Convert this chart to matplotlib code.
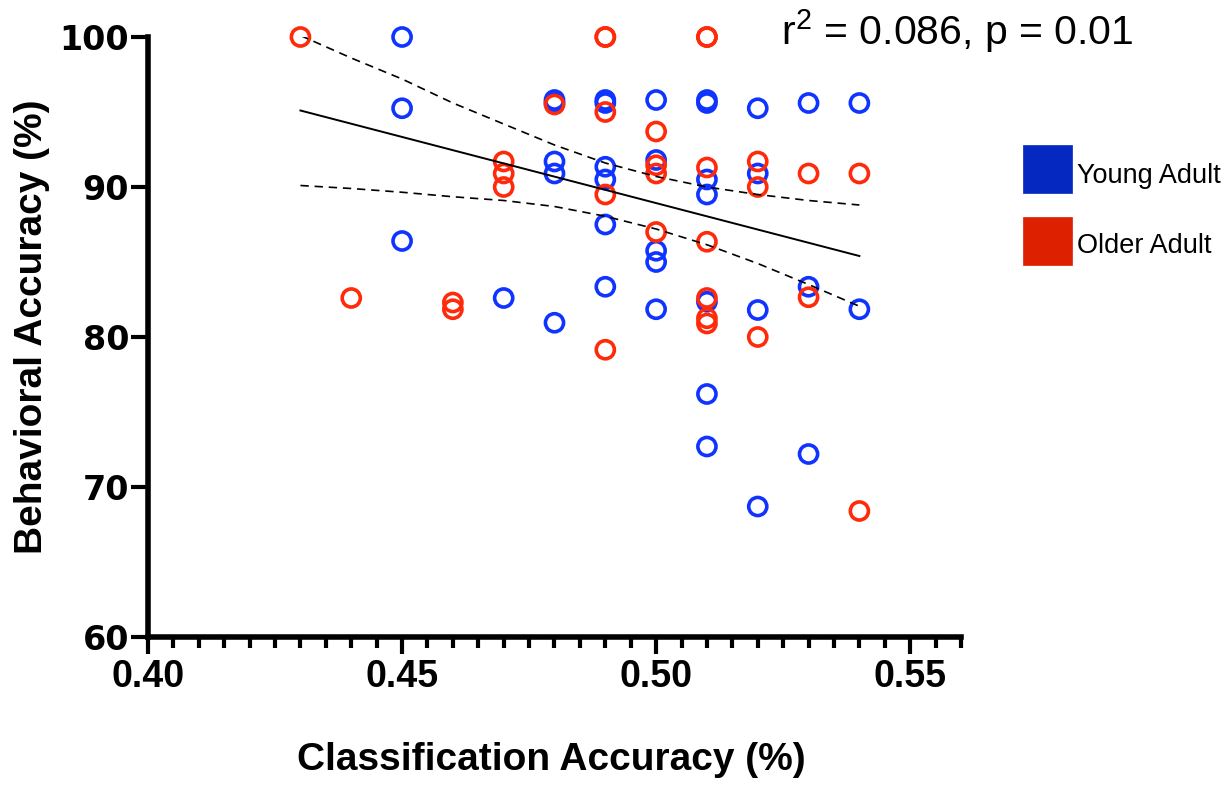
import numpy as np
import matplotlib
matplotlib.use("Agg")
import matplotlib.pyplot as plt
from matplotlib.ticker import MultipleLocator, FormatStrFormatter
from matplotlib.patches import Rectangle

plt.rcParams["mathtext.fontset"] = "custom"
plt.rcParams["mathtext.rm"] = "Liberation Sans"
plt.rcParams["mathtext.default"] = "regular"

# 値は図から読み取り
young_x = [0.45, 0.45, 0.45,
           0.47,
           0.48, 0.48, 0.48, 0.48, 0.48,
           0.49, 0.49, 0.49, 0.49, 0.49, 0.49,
           0.50, 0.50, 0.50, 0.50, 0.50,
           0.51, 0.51, 0.51, 0.51, 0.51, 0.51, 0.51,
           0.52, 0.52, 0.52, 0.52,
           0.53, 0.53, 0.53,
           0.54, 0.54]
young_y = [100.0, 95.25, 86.4,
           82.6,
           95.8, 95.6, 91.7, 90.9, 80.95,
           95.8, 95.6, 91.35, 90.5, 87.5, 83.35,
           95.8, 91.8, 85.75, 85.0, 81.85,
           95.8, 95.6, 90.5, 89.5, 82.35, 76.2, 72.7,
           95.25, 90.9, 81.8, 68.7,
           95.6, 83.35, 72.2,
           95.6, 81.85]

older_x = [0.43,
           0.44,
           0.46, 0.46,
           0.47, 0.47, 0.47,
           0.48,
           0.49, 0.49, 0.49, 0.49, 0.49,
           0.50, 0.50, 0.50, 0.50,
           0.51, 0.51, 0.51, 0.51, 0.51, 0.51, 0.51,
           0.52, 0.52, 0.52,
           0.53, 0.53,
           0.54, 0.54]
older_y = [100.0,
           82.6,
           82.3, 81.85,
           91.7, 90.9, 90.0,
           95.5,
           100.0, 100.0, 95.0, 89.5, 79.15,
           93.7, 91.45, 90.9, 87.0,
           100.0, 100.0, 91.3, 86.35, 82.6, 81.25, 80.9,
           91.7, 90.0, 80.0,
           90.9, 82.65,
           90.9, 68.4]

# 回帰直線と95%信頼帯
fit_x = [0.43, 0.54]
fit_y = [95.1, 85.4]
band_x = [0.43, 0.44, 0.45, 0.46, 0.47, 0.48, 0.49, 0.50, 0.51, 0.52, 0.53, 0.54]
band_upper = [100.1, 98.6, 97.2, 95.6, 94.2, 92.8, 91.6, 90.7, 90.0, 89.5, 89.1, 88.8]
band_lower = [90.1, 89.9, 89.65, 89.35, 89.1, 88.7, 88.05, 87.2, 86.15, 84.9, 83.5, 82.05]

x_ticks = [0.40, 0.45, 0.50, 0.55]
y_ticks = [60, 70, 80, 90, 100]
stats_text = "r$^{2}$ = 0.086, p = 0.01"
group_names = ["Young Adult", "Older Adult"]

blue = "#1034FF"
red = "#FF2A0A"
legend_colors = ["#0528C0", "#DD2000"]

fig = plt.figure(figsize=(12.27, 7.86), dpi=100)
ax = fig.add_axes([148 / 1227, 1 - 637 / 786, (961 - 148) / 1227, 600 / 786])

ax.scatter(young_x, young_y, s=170, facecolors="none", edgecolors=blue,
           linewidths=2.6, clip_on=False, zorder=3)
ax.scatter(older_x, older_y, s=170, facecolors="none", edgecolors=red,
           linewidths=2.6, clip_on=False, zorder=3)

ax.plot(fit_x, fit_y, color="black", lw=1.4, zorder=4)
ax.plot(band_x, band_upper, color="black", lw=1.2, ls=(0, (5, 3.5)), zorder=4)
ax.plot(band_x, band_lower, color="black", lw=1.2, ls=(0, (5, 3.5)), zorder=4)

ax.set_xlim(0.40, 0.56)
ax.set_ylim(60, 100)
ax.set_xticks(x_ticks)
ax.xaxis.set_minor_locator(MultipleLocator(0.005))
ax.xaxis.set_major_formatter(FormatStrFormatter("%.2f"))
ax.set_yticks(y_ticks)

for side in ["top", "right"]:
    ax.spines[side].set_visible(False)
for side in ["left", "bottom"]:
    ax.spines[side].set_linewidth(4)

ax.tick_params(axis="both", which="major", length=12, width=3, direction="out")
ax.tick_params(axis="x", which="minor", length=8, width=3, direction="out")
ax.tick_params(axis="x", which="major", pad=4)
ax.tick_params(axis="y", which="major", pad=1.5)

for lab in ax.get_xticklabels():
    lab.set_fontfamily("Liberation Sans")
    lab.set_fontweight("bold")
    lab.set_fontsize(27)
for lab in ax.get_yticklabels():
    lab.set_fontfamily("DejaVu Sans")
    lab.set_fontweight("bold")
    lab.set_fontsize(24)

ax.set_xlabel("Classification Accuracy (%)", family="Liberation Sans",
              fontweight="bold", fontsize=28)
ax.xaxis.set_label_coords(0.4957, -0.205)
ax.xaxis.label.set_verticalalignment("center")
ax.set_ylabel("Behavioral Accuracy (%)", family="Liberation Sans",
              fontweight="bold", fontsize=28)
ax.yaxis.set_label_coords(-0.1430, 0.517)
ax.yaxis.label.set_verticalalignment("center")

fig.text(781 / 1227, 1 - 45 / 786, stats_text, family="Liberation Sans",
         fontsize=29.5, va="baseline", ha="left")

# 凡例（色の四角とラベル）
legend_tops = [145, 217]
legend_baselines = [183, 253]
for name, col, top, base in zip(group_names, legend_colors, legend_tops, legend_baselines):
    fig.patches.append(Rectangle((1023 / 1227, 1 - (top + 48) / 786), 49 / 1227, 48 / 786,
                                 transform=fig.transFigure, facecolor=col,
                                 edgecolor=col, lw=0.5))
    fig.text(1077 / 1227, 1 - base / 786, name, family="Liberation Sans",
             fontsize=19.5, va="baseline", ha="left")

fig.savefig("out.png", dpi=100)
